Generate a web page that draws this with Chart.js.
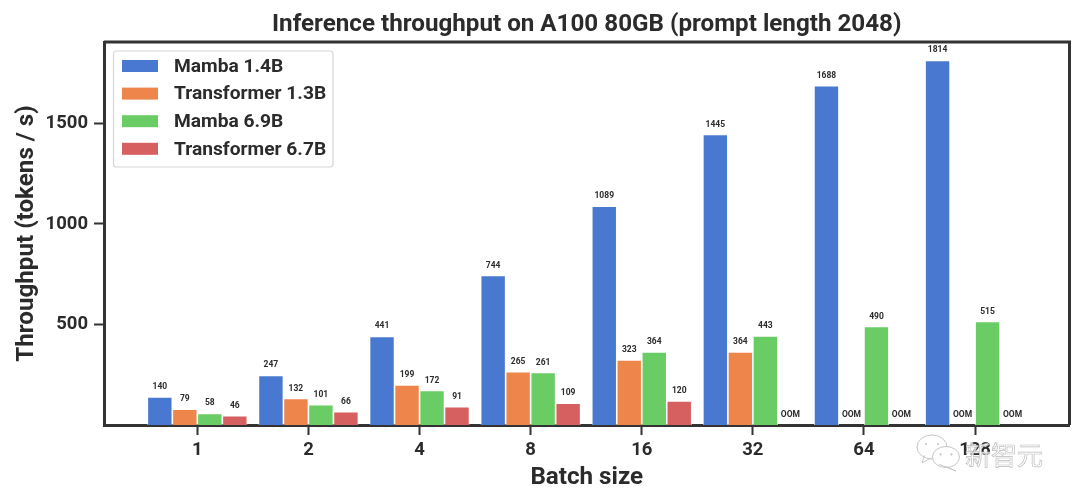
<!DOCTYPE html>
<html>
<head>
<meta charset="utf-8">
<style>
  html, body { margin: 0; padding: 0; background: #fff; }
  #wrap { width: 1080px; height: 502px; }
</style>
<script src="https://cdn.jsdelivr.net/npm/chart.js@4"></script>
</head>
<body>
<div id="wrap"><canvas id="grafico" width="1080" height="502"></canvas></div>
<script>
const categories = ['1', '2', '4', '8', '16', '32', '64', '128'];
const mamba14 = [140, 247, 441, 744, 1089, 1445, 1688, 1814];
const transformer13 = [79, 132, 199, 265, 323, 364, null, null];
const mamba69 = [58, 101, 172, 261, 364, 443, 490, 515];
const transformer67 = [46, 66, 91, 109, 120, null, null, null];
const yTicks = [500, 1000, 1500];
const seriesNames = ['Mamba 1.4B', 'Transformer 1.3B', 'Mamba 6.9B', 'Transformer 6.7B'];
const seriesColors = ['#4878d0', '#ee854a', '#6acc64', '#d65f5f'];

const ink = '#2b2b2b';
const fontFamily = 'Roboto';

function toPoints(values) {
    return values.map((v, i) => ({ x: i, y: v }));
}

// marco superior y derecho del grafico
const framePlugin = {
    id: 'frame',
    afterDraw(chart) {
        const { ctx, chartArea: a } = chart;
        ctx.save();
        ctx.strokeStyle = '#333';
        ctx.lineWidth = 3;
        ctx.beginPath();
        ctx.moveTo(a.left, a.top);
        ctx.lineTo(a.right, a.top);
        ctx.lineTo(a.right, a.bottom);
        ctx.stroke();
        ctx.restore();
    }
};

// numeros encima de cada barra, OOM donde no hay valor
const valueLabels = {
    id: 'valueLabels',
    afterDatasetsDraw(chart) {
        const { ctx } = chart;
        const y = chart.scales.y;
        ctx.save();
        ctx.font = 'bold 8.5px ' + fontFamily;
        ctx.fillStyle = ink;
        ctx.textAlign = 'center';
        ctx.textBaseline = 'middle';
        chart.data.datasets.forEach((ds, d) => {
            chart.getDatasetMeta(d).data.forEach((bar, i) => {
                const v = ds.data[i].y;
                if (v === null) ctx.fillText('OOM', bar.x, y.getPixelForValue(0) - 10);
                else ctx.fillText(String(v), bar.x, y.getPixelForValue(v) - 10);
            });
        });
        ctx.restore();
    }
};

// leyenda dentro del area, arriba a la izquierda
const legendBox = {
    id: 'legendBox',
    afterDraw(chart) {
        const { ctx } = chart;
        ctx.save();
        ctx.fillStyle = '#fff';
        ctx.strokeStyle = '#d6d6d6';
        ctx.lineWidth = 1.2;
        ctx.beginPath();
        ctx.roundRect(113.5, 51, 219.5, 116, 3);
        ctx.fill();
        ctx.stroke();
        ctx.font = 'bold 19.2px ' + fontFamily;
        ctx.textBaseline = 'middle';
        seriesNames.forEach((name, i) => {
            const rowY = 66 + i * 27.6;
            ctx.fillStyle = seriesColors[i];
            ctx.fillRect(122, rowY - 6, 36, 12);
            ctx.fillStyle = ink;
            ctx.fillText(name, 174, rowY + 1);
        });
        ctx.restore();
    }
};

// marca de agua de la imagen original
const watermark = {
    id: 'watermark',
    afterDraw(chart) {
        const { ctx } = chart;
        ctx.save();
        const bubble = (cx, cy, rx, ry, tailX, tailY) => {
            ctx.beginPath();
            ctx.ellipse(cx, cy, rx, ry, 0, 0, Math.PI * 2);
            ctx.moveTo(cx - rx * 0.5, cy + ry * 0.7);
            ctx.lineTo(tailX, tailY);
            ctx.lineTo(cx - rx * 0.05, cy + ry * 0.9);
            ctx.fillStyle = 'rgba(255,255,255,0.9)';
            ctx.fill();
            ctx.strokeStyle = '#c6c6c6';
            ctx.lineWidth = 1;
            ctx.stroke();
            ctx.fillStyle = '#c6c6c6';
            [-0.4, 0.4].forEach((k) => {
                ctx.beginPath();
                ctx.arc(cx + rx * k, cy - ry * 0.25, 1.1, 0, Math.PI * 2);
                ctx.fill();
            });
        };
        bubble(932, 447, 15, 12, 922, 463);
        bubble(946, 457, 13.5, 10.5, 956, 471);
        ctx.font = '26px "Noto Sans CJK SC"';
        ctx.textBaseline = 'middle';
        ctx.fillStyle = 'rgba(255,255,255,0.8)';
        ctx.fillText('新智元', 965, 455);
        ctx.strokeStyle = '#bdbdbd';
        ctx.lineWidth = 0.7;
        ctx.strokeText('新智元', 965, 455);
        ctx.restore();
    }
};

new Chart(document.getElementById('grafico').getContext('2d'), {
    type: 'bar',
    data: {
        datasets: [mamba14, transformer13, mamba69, transformer67].map((values, i) => ({
            label: seriesNames[i],
            data: toPoints(values),
            backgroundColor: seriesColors[i],
            borderColor: '#ffffff',
            borderWidth: 0.8,
            barPercentage: 1,
            categoryPercentage: 0.9
        }))
    },
    options: {
        responsive: false,
        animation: false,
        devicePixelRatio: 1,
        layout: { padding: { left: 0, right: 10.5, top: 0, bottom: 0 } },
        plugins: {
            legend: { display: false },
            tooltip: { enabled: false },
            title: {
                display: true,
                fullSize: false,
                text: 'Inference throughput on A100 80GB (prompt length 2048)',
                color: ink,
                font: { family: fontFamily, size: 24.2, weight: 'bold', lineHeight: 1.2 },
                padding: { top: 10, bottom: 3 }
            }
        },
        scales: {
            x: {
                type: 'linear',
                offset: false,
                min: -0.84,
                max: 7.85,
                afterBuildTicks(scale) {
                    scale.ticks = categories.map((c, i) => ({ value: i }));
                },
                afterFit(scale) { scale.height = 77; },
                grid: { display: true, offset: false, drawOnChartArea: false, tickLength: 10, tickWidth: 2, tickColor: '#333' },
                border: { color: '#333', width: 3 },
                ticks: {
                    autoSkip: false,
                    maxRotation: 0,
                    padding: 4,
                    color: ink,
                    font: { family: fontFamily, size: 18.5, weight: 'bold' },
                    callback: (v) => categories[v]
                },
                title: {
                    display: true,
                    text: 'Batch size',
                    color: ink,
                    font: { family: fontFamily, size: 24.2, weight: 'bold', lineHeight: 1.2 },
                    padding: { top: 0, bottom: 10 }
                }
            },
            y: {
                min: 0,
                max: 1905,
                afterBuildTicks(scale) {
                    scale.ticks = yTicks.map((v) => ({ value: v }));
                },
                afterFit(scale) { scale.width = 104; },
                grid: { display: true, drawOnChartArea: false, tickLength: 10, tickWidth: 2, tickColor: '#333' },
                border: { color: '#333', width: 3 },
                ticks: {
                    padding: 6,
                    color: ink,
                    font: { family: fontFamily, size: 18.5, weight: 'bold' },
                    callback: (v) => String(v)
                },
                title: {
                    display: true,
                    text: 'Throughput (tokens / s)',
                    color: ink,
                    font: { family: fontFamily, size: 24.2, weight: 'bold', lineHeight: 1.2 },
                    padding: { top: 12, bottom: 0 }
                }
            }
        }
    },
    plugins: [framePlugin, valueLabels, legendBox, watermark]
});
</script>
</body>
</html>
